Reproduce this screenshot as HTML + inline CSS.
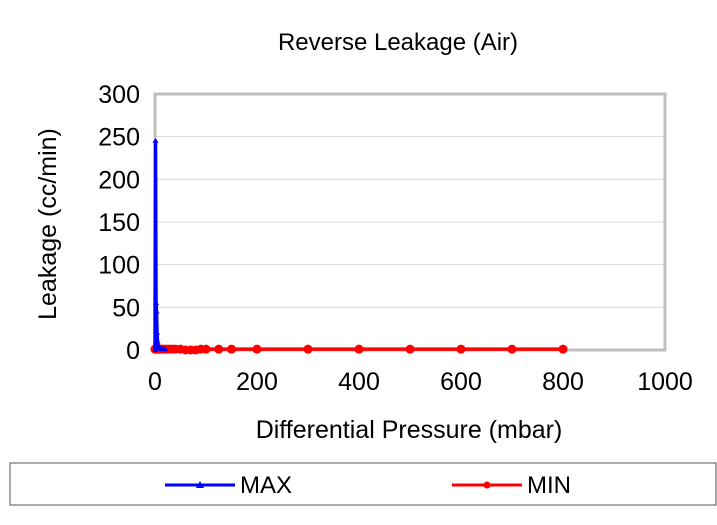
<!DOCTYPE html>
<html><head><meta charset="utf-8"><style>
body{margin:0;background:#fff;font-family:"Liberation Sans",Arial,sans-serif}
</style></head><body>
<svg width="717" height="520" xmlns="http://www.w3.org/2000/svg" font-family="Liberation Sans, Arial, sans-serif">
<rect width="717" height="520" fill="#fff"/>
<text x="398" y="50" font-size="24" text-anchor="middle">Reverse Leakage (Air)</text>
<g id="grid"></g>
<rect x="155" y="94" width="510" height="256" fill="none" stroke="#bfbfbf" stroke-width="3"/>
<g id="axes"></g>
<g id="series"></g>
<text transform="translate(56,224) rotate(-90)" font-size="25" text-anchor="middle">Leakage (cc/min)</text>
<text x="409" y="438" font-size="25" text-anchor="middle">Differential Pressure (mbar)</text>
<rect x="10" y="463" width="706" height="42" fill="#fff" stroke="#555" stroke-width="1"/>
<g>
<line x1="165" y1="485" x2="235" y2="485" stroke="#0000ff" stroke-width="3"/>
<path d="M200 481 L204 488 L196 488Z" fill="#0000ff"/>
<text x="240" y="493" font-size="24">MAX</text></g>
<g>
<line x1="452" y1="485" x2="522" y2="485" stroke="#ff0000" stroke-width="3"/>
<circle cx="487" cy="485" r="3.5" fill="#ff0000"/>
<text x="527" y="493" font-size="24">MIN</text></g>
</svg>
<script>
const xTicks=[0,200,400,600,800,1000];
const yTicks=[0,50,100,150,200,250,300];
const maxX=[0,1,2,3,4,5,6,7,8,9,10,12,15,20];
const maxY=[0,245,55,45,20,10,6,4,3,2,2,1.5,1,1];
const minX=[0,1,2,3,4,5,6,7,8,9,10,15,20,25,30,35,40,50,60,70,80,90,100,125,150,200,300,400,500,600,700,800];
const minY=[1,1,1,1,1,1,1,1,1,1,1,1,1,1,1,1,1,1,0,0,0,1,1,1,1,1,1,1,1,1,1,1];
const NS="http://www.w3.org/2000/svg";
const X=v=>155+v*510/1000, Y=v=>350-v*256/300;
function mk(t,a,p){const e=document.createElementNS(NS,t);for(const k in a)e.setAttribute(k,a[k]);p.appendChild(e);return e;}
const grid=document.getElementById('grid'),axes=document.getElementById('axes'),ser=document.getElementById('series');
yTicks.forEach(v=>{
 if(v>0&&v<300){const l=mk('line',{x1:155,x2:665,y1:Y(v),y2:Y(v),stroke:'#d9d9d9','stroke-width':1},grid);
 
 }
 const t=mk('text',{x:140,y:Y(v)+9,'font-size':25,'text-anchor':'end'},axes);t.textContent=v;
 
 
});
xTicks.forEach(v=>{
 const t=mk('text',{x:X(v),y:390,'font-size':25,'text-anchor':'middle'},axes);t.textContent=v;
 
 
});
const minLine=mk('polyline',{points:minX.map((x,i)=>X(x)+','+Y(minY[i])).join(' '),fill:'none',stroke:'#ff0000','stroke-width':3.5},ser);


minX.forEach((x,i)=>{const c=mk('circle',{cx:X(x),cy:Y(minY[i]),r:4.5,fill:'#ff0000'},ser);
 
 });
const maxLine=mk('polyline',{points:maxX.map((x,i)=>X(x)+','+Y(maxY[i])).join(' '),fill:'none',stroke:'#0000ff','stroke-width':3.5},ser);


maxX.forEach((x,i)=>{const px=X(x),py=Y(maxY[i]);const p=mk('path',{d:`M${px} ${py-3} L${px+3} ${py+2} L${px-3} ${py+2}Z`,fill:'#0000ff'},ser);
 
 });
</script>
</body></html>
